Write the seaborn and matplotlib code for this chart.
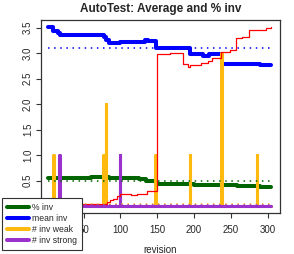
import matplotlib
matplotlib.use("Agg")
import seaborn as sns
from matplotlib import pyplot as plt
from matplotlib.lines import Line2D

# step series (revision, value)
rev_green = [2, 60, 85, 100, 125, 135, 148, 200, 240, 258, 290, 305]
pct_inv = [0.55, 0.56, 0.55, 0.54, 0.53, 0.50, 0.43, 0.42, 0.41, 0.39, 0.38, 0.38]

rev_blue = [2, 9, 15, 18, 77, 80, 84, 99, 134, 137, 148, 194, 212, 220, 238, 289, 305]
mean_inv = [3.51, 3.44, 3.39, 3.36, 3.31, 3.26, 3.19, 3.21, 3.25, 3.23, 3.10, 2.98, 2.95, 2.98, 2.78, 2.76, 2.76]

rev_weak = [2, 9, 10, 76, 77, 80, 81, 147, 148, 194, 195, 237, 238, 285, 286, 305]
inv_weak = [0, 1, 0, 1, 0, 2, 0, 1, 0, 1, 0, 3, 0, 1, 0, 0]

rev_strong = [2, 17, 18, 99, 100, 305]
inv_strong = [0, 1, 0, 1, 0, 0]

rev_red = [2, 82, 86, 90, 95, 100, 115, 123, 136, 149, 167, 185, 192, 195, 210, 219,
           224, 237, 249, 257, 265, 275, 290, 298, 305]
red_vals = [0.03, 0.08, 0.11, 0.14, 0.19, 0.24, 0.22, 0.24, 0.29, 2.98, 3.0, 2.78, 2.72,
            2.76, 2.80, 2.85, 2.9, 3.03, 3.06, 3.29, 3.31, 3.45, 3.46, 3.49, 3.51]

# averages (dotted lines)
mean_span = [2, 305]
avg_green = 0.485
avg_blue = 3.11
avg_weak = 0.04
avg_strong = 0.01

x_ticks = [0, 50, 100, 150, 200, 250, 300]
x_ticklabels = ['', '50', '100', '150', '200', '250', '300']  # 0 sits under the legend
y_ticks = [0, 0.5, 1.0, 1.5, 2.0, 2.5, 3.0, 3.5]
y_ticklabels = ['', '0.5', '1.0', '1.5', '2.0', '2.5', '3.0', '3.5']

labels = ['% inv', 'mean inv', '# inv weak', '# inv strong']
colors = ['#006400', '#0000FF', '#FFB90F', '#9932CC']

sns.set_style('ticks')
plt.rcParams['font.family'] = ['Liberation Sans', 'DejaVu Sans']

fig = plt.figure(figsize=(2.94, 2.54), dpi=100)
ax = fig.add_axes([0.138, 0.161, 0.814, 0.76])

sns.lineplot(x=rev_green, y=pct_inv, ax=ax, color=colors[0], lw=2.9, drawstyle='steps-post')
sns.lineplot(x=rev_blue, y=mean_inv, ax=ax, color=colors[1], lw=2.9, drawstyle='steps-post')
sns.lineplot(x=rev_weak, y=inv_weak, ax=ax, color=colors[2], lw=2.2, drawstyle='steps-post')
sns.lineplot(x=rev_strong, y=inv_strong, ax=ax, color=colors[3], lw=2.2, drawstyle='steps-post')
sns.lineplot(x=rev_red, y=red_vals, ax=ax, color='red', lw=0.9, drawstyle='steps-post')

for avg, c in zip([avg_green, avg_blue, avg_weak, avg_strong], colors):
    sns.lineplot(x=mean_span, y=[avg, avg], ax=ax, color=c, lw=1.1, linestyle=(0, (1, 3)))

ax.set_xlim(-8.5, 316.6)
ax.set_ylim(-0.14, 3.65)
ax.set_xticks(x_ticks)
ax.set_xticklabels(x_ticklabels)
ax.set_yticks(y_ticks)
ax.set_yticklabels(y_ticklabels, rotation=90, va='center')
ax.tick_params(labelsize=7, length=3.5, width=0.8, color='#333333', pad=2)
ax.tick_params(axis='x', pad=5)
for s in ax.spines.values():
    s.set_color('#333333')
    s.set_linewidth(0.9)

ax.set_title('AutoTest: Average and % inv', fontsize=8.5, fontweight='bold', pad=6)
ax.set_xlabel('revision', fontsize=7, labelpad=7)
ax.set_ylabel('')

handles = [Line2D([], [], color=c, lw=2.9) for c in colors]
leg = fig.legend(handles, labels, loc='lower left', bbox_to_anchor=(0.007, 0.016),
                 borderaxespad=0, fontsize=6.2, fancybox=False, framealpha=1,
                 edgecolor='#333333', handlelength=2.55, labelspacing=0.25,
                 borderpad=0.55, handletextpad=0.4)
leg.get_frame().set_linewidth(0.8)

fig.savefig('out.png', dpi=100)
